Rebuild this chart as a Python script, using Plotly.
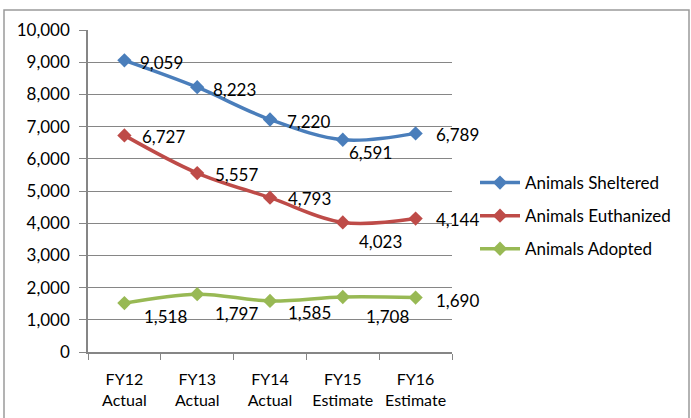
import plotly.graph_objects as go

# categories and values
categories = ["FY12<br>Actual", "FY13<br>Actual", "FY14<br>Actual", "FY15<br>Estimate", "FY16<br>Estimate"]
sheltered = [9059, 8223, 7220, 6591, 6789]
euthanized = [6727, 5557, 4793, 4023, 4144]
adopted = [1518, 1797, 1585, 1708, 1690]

# label offsets (px) per point, to mimic the Excel data label placement
sheltered_off = [(37, 2), (37, 2), (38, 2), (28, 13), (42, 1)]
euthanized_off = [(39, 1), (39, 1), (39, 1), (38, 19), (42, 1)]
adopted_off = [(41, 13), (39, 19), (39, 12), (45, 19), (42, 3)]

FONT = "Lato, Calibri, sans-serif"

series = [
    ("Animals Sheltered", sheltered, "#4A7EBB", sheltered_off),
    ("Animals Euthanized", euthanized, "#BE4B48", euthanized_off),
    ("Animals Adopted", adopted, "#98B954", adopted_off),
]

fig = go.Figure()
annotations = []
for i, (name, vals, color, offs) in enumerate(series):
    fig.add_trace(go.Scatter(
        x=categories, y=vals, name=name, mode="lines+markers",
        line=dict(color=color, width=3.5, shape="spline", smoothing=1),
        marker=dict(symbol="diamond", size=11, color=color),
        legendgroup=str(i),
    ))
    for c, v, (dx, dy) in zip(categories, vals, offs):
        annotations.append(dict(
            x=c, y=v, text=f"{v:,}", showarrow=False,
            xshift=dx, yshift=-dy, font=dict(size=17, color="black", family=FONT),
        ))

L, R, T, B = 88, 452, 30, 352
W, H = 691, 418

def px_x(p):
    return (p - L) / (R - L)

def px_y(p):
    return (B - p) / (B - T)

fig.update_layout(
    width=W, height=H,
    margin=dict(l=L, r=W - R, t=T, b=H - B, autoexpand=False),
    paper_bgcolor="white", plot_bgcolor="white",
    font=dict(family=FONT, size=17, color="black"),
    annotations=annotations,
    showlegend=True,
    legend=dict(x=px_x(475), y=px_y(216), xanchor="left", yanchor="middle",
                tracegroupgap=8, font=dict(size=17), itemwidth=40),
    shapes=[dict(type="rect", xref="paper", yref="paper",
                 x0=px_x(4), x1=px_x(689), y0=px_y(425), y1=px_y(10),
                 line=dict(color="#9A9A9A", width=1.5))],
)
fig.update_xaxes(
    type="category", range=[-0.5, 4.5], tickson="boundaries",
    ticks="outside", ticklen=6, tickcolor="#868686",
    showline=True, linecolor="#868686", linewidth=1.5, showgrid=False,
    tickfont=dict(size=16), tickangle=0, automargin=False, ticklabelstandoff=12,
)
fig.update_yaxes(
    range=[0, 10000], dtick=1000, tickformat=",",
    ticks="outside", ticklen=7, tickcolor="#868686",
    showline=True, linecolor="#868686", linewidth=1.5,
    gridcolor="#868686", gridwidth=1, zeroline=False,
    tickfont=dict(size=17), ticklabelstandoff=6, automargin=False,
)

# remove the default page margin so the figure sits at the window's corner
fig.write_html("out.html", config={"displayModeBar": False},
               post_script="document.body.style.margin='0';")
